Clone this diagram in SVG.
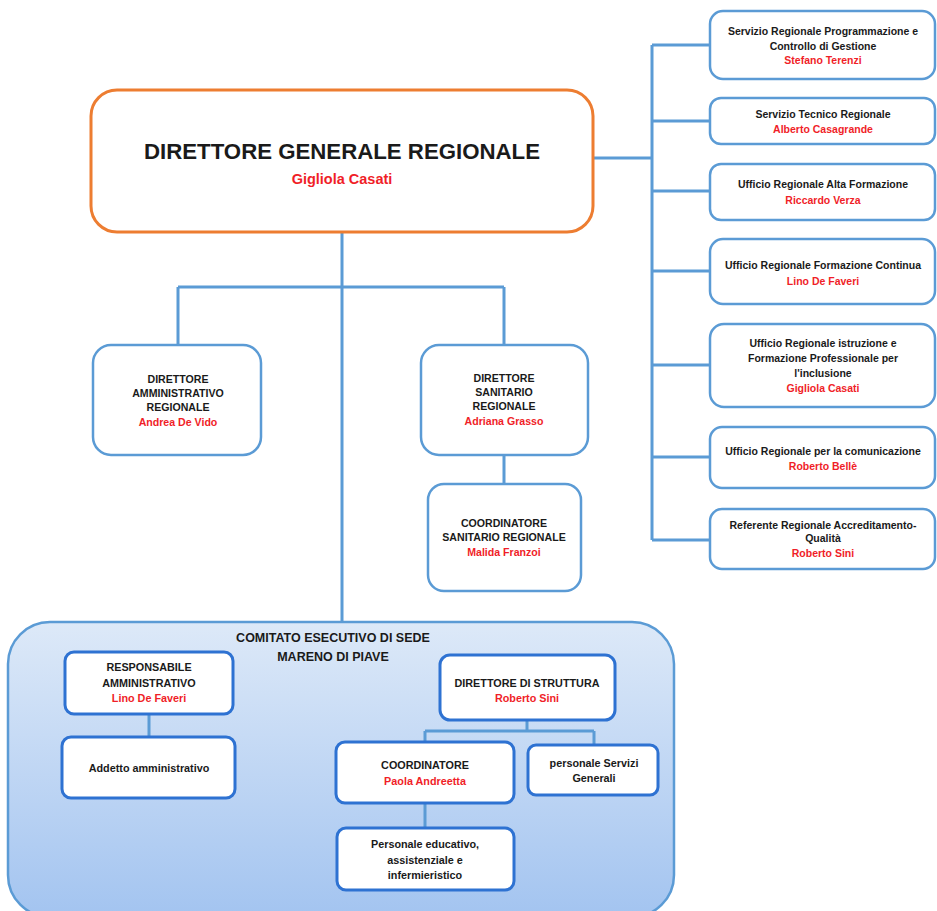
<svg xmlns="http://www.w3.org/2000/svg" width="937" height="911" viewBox="0 0 937 911">
<defs>
<linearGradient id="cg" x1="0" y1="0" x2="0" y2="1">
<stop offset="0" stop-color="#dde9f8"/>
<stop offset="1" stop-color="#a3c4f0"/>
</linearGradient>
</defs>
<style>
.t{font-family:"Liberation Sans",Arial,sans-serif;font-weight:bold;text-anchor:middle;fill:#1a1a1a}
.r{fill:#f01e28}
.bx{fill:#fff;stroke:#5b9bd5;stroke-width:2.5}
.ib{fill:#fff;stroke:#2e72d2;stroke-width:3}
.ln{fill:none;stroke:#5b9bd5;stroke-width:3}
.s10{font-size:10.5px}
.sm{font-size:10.6px}
.s11{font-size:10.8px}
</style>
<rect width="937" height="911" fill="#fff"/>

<g id="connectors">
<path class="ln" d="M593 158H652M652 45V540M652 45H710M652 121H710M652 191H710M652 271H710M652 365H710M652 457H710M652 540H710"/>
<path class="ln" d="M342 232V622M178 287H504M178 287V345M504 287V345M504 455V484"/>
</g>

<g id="comitato">
<rect x="8" y="622" width="666" height="295" rx="42" fill="url(#cg)" stroke="#5b9bd5" stroke-width="2.5"/>
<text class="t" x="333" y="642" font-size="12.5">COMITATO ESECUTIVO DI SEDE</text>
<text class="t" x="333" y="661" font-size="12.5">MARENO DI PIAVE</text>
</g>
<g id="comitato-connectors">
<path fill="none" stroke="#5b9bd5" stroke-width="3" d="M149 714V737M527 720V731M425 731H594M425 731V742M594 731V745M425 803V828"/>
</g>

<g id="dg">
<rect x="91" y="90" width="502" height="142" rx="26" fill="#fff" stroke="#ed7d31" stroke-width="3"/>
<text class="t" x="342" y="159" font-size="22" textLength="396" lengthAdjust="spacingAndGlyphs">DIRETTORE GENERALE REGIONALE</text>
<text class="t r" x="342" y="184" font-size="14.5">Gigliola Casati</text>
</g>

<g id="r1"><rect class="bx" x="710" y="11" width="225" height="68" rx="13"/>
<text class="t s10" x="823" y="35">Servizio Regionale Programmazione e</text>
<text class="t s10" x="823" y="50">Controllo di Gestione</text>
<text class="t s10 r" x="823" y="64">Stefano Terenzi</text></g>

<g id="r2"><rect class="bx" x="710" y="98" width="225" height="46" rx="11"/>
<text class="t s10" x="823" y="118">Servizio Tecnico Regionale</text>
<text class="t s10 r" x="823" y="133">Alberto Casagrande</text></g>

<g id="r3"><rect class="bx" x="710" y="164" width="225" height="56" rx="11"/>
<text class="t s10" x="823" y="188">Ufficio Regionale Alta Formazione</text>
<text class="t s10 r" x="823" y="204">Riccardo Verza</text></g>

<g id="r4"><rect class="bx" x="710" y="239" width="225" height="65" rx="13"/>
<text class="t s10" x="823" y="269">Ufficio Regionale Formazione Continua</text>
<text class="t s10 r" x="823" y="285">Lino De Faveri</text></g>

<g id="r5"><rect class="bx" x="710" y="324" width="225" height="83" rx="14"/>
<text class="t s10" x="823" y="347">Ufficio Regionale istruzione e</text>
<text class="t s10" x="823" y="362">Formazione Professionale per</text>
<text class="t s10" x="823" y="377">l'inclusione</text>
<text class="t s10 r" x="823" y="392">Gigliola Casati</text></g>

<g id="r6"><rect class="bx" x="710" y="427" width="225" height="61" rx="12"/>
<text class="t s10" x="823" y="455">Ufficio Regionale per la comunicazione</text>
<text class="t s10 r" x="823" y="470">Roberto Bellè</text></g>

<g id="r7"><rect class="bx" x="710" y="509" width="225" height="60" rx="12"/>
<text class="t s10" x="823" y="529">Referente Regionale Accreditamento-</text>
<text class="t s10" x="823" y="542">Qualità</text>
<text class="t s10 r" x="823" y="557">Roberto Sini</text></g>

<g id="dam"><rect class="bx" x="93" y="345" width="168" height="110" rx="18"/>
<text class="t sm" x="178" y="383">DIRETTORE</text>
<text class="t sm" x="178" y="397">AMMINISTRATIVO</text>
<text class="t sm" x="178" y="411">REGIONALE</text>
<text class="t sm r" x="178" y="426">Andrea De Vido</text></g>

<g id="dsa"><rect class="bx" x="421" y="345" width="167" height="110" rx="18"/>
<text class="t sm" x="504" y="382">DIRETTORE</text>
<text class="t sm" x="504" y="396">SANITARIO</text>
<text class="t sm" x="504" y="410">REGIONALE</text>
<text class="t sm r" x="504" y="425">Adriana Grasso</text></g>

<g id="csr"><rect class="bx" x="428" y="484" width="153" height="107" rx="16"/>
<text class="t sm" x="504" y="527">COORDINATORE</text>
<text class="t sm" x="504" y="541">SANITARIO REGIONALE</text>
<text class="t sm r" x="504" y="556">Malida Franzoi</text></g>

<g id="ramm"><rect class="ib" x="65" y="652" width="168" height="62" rx="9"/>
<text class="t s11" x="149" y="671">RESPONSABILE</text>
<text class="t s11" x="149" y="687">AMMINISTRATIVO</text>
<text class="t s11 r" x="149" y="702">Lino De Faveri</text></g>

<g id="addetto"><rect class="ib" x="62" y="737" width="173" height="61" rx="9"/>
<text class="t s11" x="149" y="772">Addetto amministrativo</text></g>

<g id="dstr"><rect class="ib" x="440" y="655" width="175" height="65" rx="10"/>
<text class="t s11" x="527" y="687">DIRETTORE DI STRUTTURA</text>
<text class="t s11 r" x="527" y="702">Roberto Sini</text></g>

<g id="coord"><rect class="ib" x="336" y="742" width="178" height="61" rx="9"/>
<text class="t s11" x="425" y="769">COORDINATORE</text>
<text class="t s11 r" x="425" y="785">Paola Andreetta</text></g>

<g id="servizi"><rect class="ib" x="528" y="745" width="130" height="50" rx="8"/>
<text class="t s11" x="594" y="767">personale Servizi</text>
<text class="t s11" x="594" y="782">Generali</text></g>

<g id="pers"><rect class="ib" x="337" y="828" width="177" height="62" rx="9"/>
<text class="t s11" x="425" y="848">Personale educativo,</text>
<text class="t s11" x="425" y="864">assistenziale e</text>
<text class="t s11" x="425" y="879">infermieristico</text></g>
</svg>
